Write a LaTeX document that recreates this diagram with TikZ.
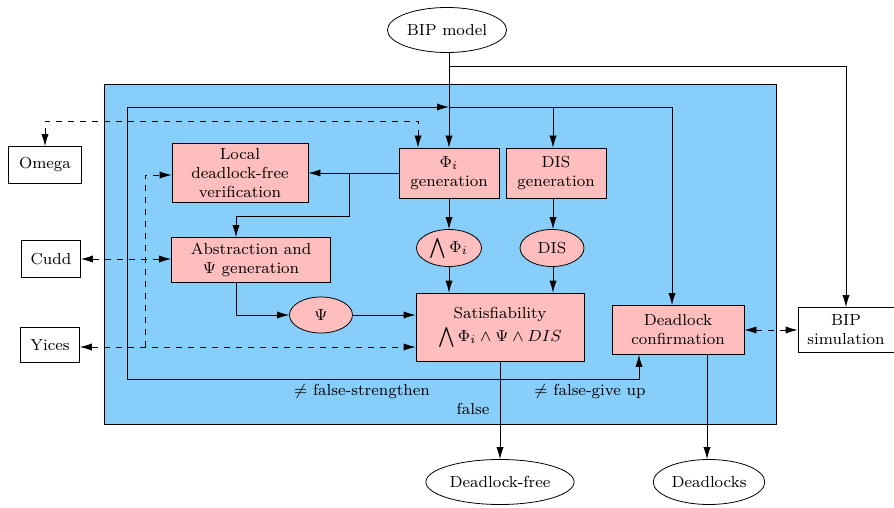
\documentclass[tikz,border=0pt]{standalone}
\usetikzlibrary{shapes.geometric,arrows.meta}
\definecolor{bgblue}{RGB}{135,206,250}
\definecolor{boxpink}{RGB}{255,190,190}
\tikzset{
  pbox/.style={draw, fill=boxpink, align=center, inner sep=1pt},
  wbox/.style={draw, fill=white, align=center, inner sep=1pt},
  pell/.style={draw, ellipse, fill=boxpink, inner sep=1pt},
  well/.style={draw, ellipse, fill=white, inner sep=1pt},
  arr/.style={-{Latex[length=6pt,width=3.6pt]}},
  darr/.style={{Latex[length=6pt,width=3.6pt]}-{Latex[length=6pt,width=3.6pt]}, dashed},
}
\begin{document}
\begin{tikzpicture}
        [x=0.5pt,y=-0.5pt,font=\footnotesize]
        \useasboundingbox (0,0) rectangle (894,508);
        \draw[fill=bgblue] (104,84) rectangle (776,424);

        % inputs and outputs
        \node[well, minimum width=53pt, minimum height=22.5pt] (bip) at (447,30) {BIP model};
        \node[well, minimum width=73pt, minimum height=22.5pt] (dfree) at (500,482) {Deadlock-free};
        \node[well, minimum width=53pt, minimum height=22.5pt] (dlocks) at (709,482) {Deadlocks};

        % tools
        \node[wbox, minimum width=36.5pt, minimum height=18.5pt] (omega) at (45,165) {Omega};
        \node[wbox, minimum width=29.5pt, minimum height=18.5pt] (cudd) at (51,259) {Cudd};
        \node[wbox, minimum width=29.5pt, minimum height=17.5pt] (yices) at (50,345) {Yices};
        \node[wbox, minimum width=48pt, minimum height=22.5pt] (bipsim) at (846,330) {BIP\\simulation};

        % steps
        \node[pbox, minimum width=68pt, minimum height=29.5pt] (local) at (240,173) {Local\\deadlock-free\\verification};
        \node[pbox, minimum width=79.5pt, minimum height=22.5pt] (abstr) at (251,260) {Abstraction and\\ $\Psi$ generation};
        \node[pbox, minimum width=50pt, minimum height=25pt] (phigen) at (449,173) {$\Phi_i$\\generation};
        \node[pbox, minimum width=50pt, minimum height=25pt] (disgen) at (556,173) {DIS\\generation};
        \node[pell, minimum width=32.5pt, minimum height=18.5pt] (andphi) at (449,248) {$\bigwedge\Phi_i$};
        \node[pell, minimum width=32pt, minimum height=18.5pt] (dis) at (552,248) {DIS};
        \node[pell, minimum width=31.5pt, minimum height=18pt] (psi) at (321,315) {$\Psi$};
        \node[pbox, minimum width=84pt, minimum height=34pt] (sat) at (500,327) {Satisfiability\\[2pt] $\bigwedge\Phi_i \wedge \Psi \wedge DIS$};
        \node[pbox, minimum width=66pt, minimum height=24.5pt] (dconf) at (678,330) {Deadlock\\confirmation};

        % labels
        \node (lstr) at (362,392) {$\neq$ false-strengthen};
        \node (lgive) at (590,392) {$\neq$ false-give up};
        \node (lfalse) at (473,409) {false};

        \coordinate (top) at (449,66);
        \coordinate (hub) at (449,107);
        \coordinate (jn) at (500,379);
        \coordinate (lbot) at (127,379);
        \coordinate (ltop) at (127,107);
        \coordinate (br) at (349,173);
        \coordinate (abin) at (236,216);
        \coordinate (omg) at (418,121);
        \coordinate (ybr) at (145,347);
        \coordinate (disin) at (553,107);

        % main flow
        \draw[arr] (bip.south -| phigen.north) -- (phigen.north);
        \draw[arr] (top) -| (bipsim.north);
        \draw[arr] (hub) -| ([xshift=-3pt]dconf.north);
        \draw[arr] (disin) -- (disin |- disgen.north);
        \draw[arr] (phigen) -- (andphi);
        \draw[arr] (disin |- disgen.south) -- (disin |- dis.north);
        \draw[arr] (andphi) -- (andphi |- sat.north);
        \draw[arr] (disin |- dis.south) -- (disin |- sat.north);
        \draw[arr] (phigen.west) -- (phigen.west -| local.east);
        \draw[arr] (br) |- (abin) -- (abin |- abstr.north);
        \draw[arr] (abin |- abstr.south) |- (psi.west);
        \draw[arr] (psi) -- (psi -| sat.west);
        \draw[arr] (sat.south) -- (dfree.north);
        \draw[arr] (jn) -- (lbot) -- (ltop) -- (hub);
        \draw[arr] (jn) -| ([xshift=-19.5pt]dconf.south);
        \draw[arr] ([xshift=14.5pt]dconf.south) -- ([xshift=14.5pt]dconf.south |- dlocks.north);

        % tool links
        \draw[darr] (omega.north) |- (omg) -- (omg |- phigen.north);
        \draw[darr] (cudd.east) -- (cudd.east -| abstr.west);
        \draw[darr] (yices.east |- ybr) -- (ybr -| sat.west);
        \draw[dashed, arr] (ybr) |- ([yshift=-1pt]local.west);
        \draw[darr] (dconf.east) -- (dconf.east -| bipsim.west);
\end{tikzpicture}
\end{document}
